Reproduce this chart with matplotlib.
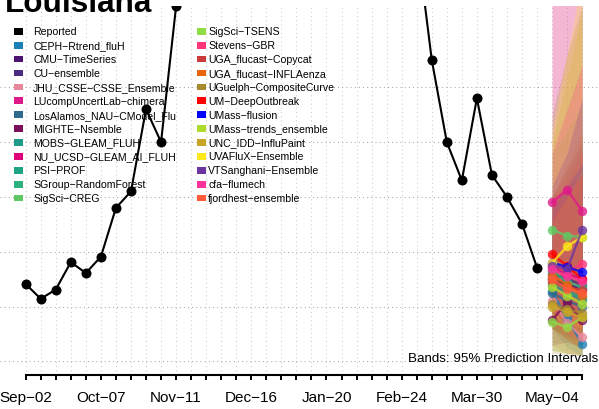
import matplotlib
matplotlib.use('Agg')
import matplotlib.pyplot as plt
import matplotlib.dates as mdates
from matplotlib.patches import Rectangle
import pandas as pd

plt.rcParams['font.family'] = ['Liberation Sans', 'DejaVu Sans']

# weekly reported hospitalizations, starting 2023-09-02
reported = [141, 114, 131, 181, 161, 191, 280, 310, 460, 400, 648,
            830, 1050, 1280, 1490, 1620, 1580, 1450, 1300, 1180, 1100,
            1020, 960, 900, 860, 820, 770,
            550, 400, 330, 480, 340, 300, 251, 171]
report_dates = pd.date_range('2023-09-02', periods=len(reported), freq='7D')
fc_dates = pd.date_range('2024-05-04', periods=3, freq='7D')

models = ['CEPH-Rtrend_fluH', 'CMU-TimeSeries', 'CU-ensemble',
          'JHU_CSSE-CSSE_Ensemble', 'LUcompUncertLab-chimera',
          'LosAlamos_NAU-CModel_Flu', 'MIGHTE-Nsemble', 'MOBS-GLEAM_FLUH',
          'NU_UCSD-GLEAM_AI_FLUH', 'PSI-PROF', 'SGroup-RandomForest',
          'SigSci-CREG', 'SigSci-TSENS', 'Stevens-GBR', 'UGA_flucast-Copycat',
          'UGA_flucast-INFLAenza', 'UGuelph-CompositeCurve', 'UM-DeepOutbreak',
          'UMass-flusion', 'UMass-trends_ensemble', 'UNC_IDD-InfluPaint',
          'UVAFluX-Ensemble', 'VTSanghani-Ensemble', 'cfa-flumech',
          'fjordhest-ensemble']
colors = ['#1b7fb8', '#4a1470', '#4b2c82', '#e8889a', '#e0198a', '#2e6b8e',
          '#7a0e5a', '#1f9a8a', '#e0007a', '#20a486', '#2db27d', '#5ec962',
          '#8fdc45', '#ff3377', '#cc3b3b', '#e8650a', '#a88a2e', '#ff0000',
          '#0000ff', '#b0dc2e', '#c8a625', '#ffe81a', '#6a35a0', '#ff3399',
          '#ff5a3a']

median = [[128, 77, 32], [150, 140, 132], [160, 150, 140], [110, 70, 44],
          [290, 313, 275], [125, 110, 100], [75, 108, 75], [140, 125, 112],
          [170, 160, 150], [150, 130, 115], [165, 145, 135], [240, 229, 227],
          [72, 62, 80], [175, 165, 177], [145, 135, 130], [155, 140, 120],
          [105, 95, 88], [196, 174, 150], [180, 172, 163], [135, 120, 105],
          [100, 90, 80], [179, 210, 227], [174, 168, 240], [168, 155, 147],
          [150, 132, 125]]
lower = [[60, 25, 10], [90, 70, 55], [100, 80, 65], [30, 15, 10],
         [120, 110, 90], [60, 45, 35], [30, 35, 25], [80, 60, 45],
         [100, 80, 60], [70, 50, 35], [90, 70, 50], [140, 110, 90],
         [20, 15, 12], [90, 70, 60], [60, 40, 25], [60, 40, 20],
         [15, 12, 10], [120, 90, 70], [110, 90, 75], [70, 50, 35],
         [20, 15, 12], [80, 70, 60], [90, 70, 100], [70, 50, 35],
         [70, 50, 40]]
upper = [[230, 180, 130], [240, 280, 320], [250, 300, 350], [680, 700, 720],
         [660, 700, 720], [260, 300, 340], [200, 260, 280], [250, 300, 340],
         [280, 330, 380], [300, 350, 400], [270, 320, 360], [380, 420, 470],
         [200, 230, 280], [300, 340, 380], [300, 350, 400], [300, 360, 420],
         [450, 560, 650], [300, 320, 340], [280, 320, 360], [250, 300, 350],
         [400, 520, 640], [420, 560, 700], [320, 380, 480], [380, 460, 540],
         [260, 300, 340]]

W, H = 599, 410


def fx(px):
    return px / W


def fy(py):
    return 1 - py / H


fig = plt.figure(figsize=(W / 100, H / 100), dpi=100)
ax = fig.add_axes([0, fy(376), 1, (376 - 7) / H])

start = mdates.date2num(report_dates[0])
ax.set_xlim(start - 1.709 * 7, start + 38.12 * 7)
ax.set_ylim(-25, 648.4)

# grid
all_weeks = pd.date_range('2023-09-02', periods=38, freq='7D')
for d in all_weeks:
    ax.axvline(d, color='#cccccc', lw=0.75, ls=(0, (1, 3)), zorder=0)
for v in range(0, 600, 100):
    ax.axhline(v, color='#a8a8a8', lw=0.75, ls=(0, (1, 3)), zorder=0)

# prediction bands
for c, lo, up in zip(colors, lower, upper):
    ax.fill_between(fc_dates, lo, up, color=c, alpha=0.22, lw=0, zorder=1)

# forecast medians
for c, med in zip(colors, median):
    ax.plot(fc_dates, med, color=c, lw=1.7, marker='o', ms=6.8,
            mew=0, alpha=0.8, zorder=2)

ax.plot(report_dates, reported, color='black', lw=1.5, marker='o', ms=7.2,
        mew=0, zorder=3)

for s in ['top', 'right', 'left']:
    ax.spines[s].set_visible(False)
ax.spines['bottom'].set_linewidth(1.5)
ax.spines['bottom'].set_bounds(mdates.date2num(all_weeks[0]),
                               mdates.date2num(all_weeks[-1]))
ax.set_yticks([])
ax.set_xticks(all_weeks)
labels = [d.strftime('%b-%d').replace('-', '\u2212') if i % 5 == 0 and i <= 35 else ''
          for i, d in enumerate(all_weeks)]
ax.set_xticklabels(labels)
ax.tick_params(axis='x', direction='out', length=3.6, width=1.4,
               labelsize=11, pad=7)

# legend drawn by hand, two columns
entries = ['Reported'] + models
entry_colors = ['black'] + colors
for i, (name, c) in enumerate(zip(entries, entry_colors)):
    col, row = divmod(i, 13)
    y = 32.3 + 13.9 * row
    bx = [14, 197.3][col]
    tx = [33.3, 208.3][col]
    fig.add_artist(Rectangle((fx(bx), fy(y + 3.35)), 8.7 / W, 6.7 / H,
                             transform=fig.transFigure, color=c, lw=0))
    fig.text(fx(tx), fy(y), name.replace('-', '\u2212'), fontsize=7.56,
             va='center', ha='left')

fig.text(fx(598), fy(359), 'Bands: 95% Prediction Intervals', fontsize=9.6,
         ha='right', va='center')
fig.text(fx(5), fy(12), 'Louisiana', fontsize=22.7, fontweight='bold',
         ha='left', va='baseline')

fig.savefig('out.png', dpi=100)
